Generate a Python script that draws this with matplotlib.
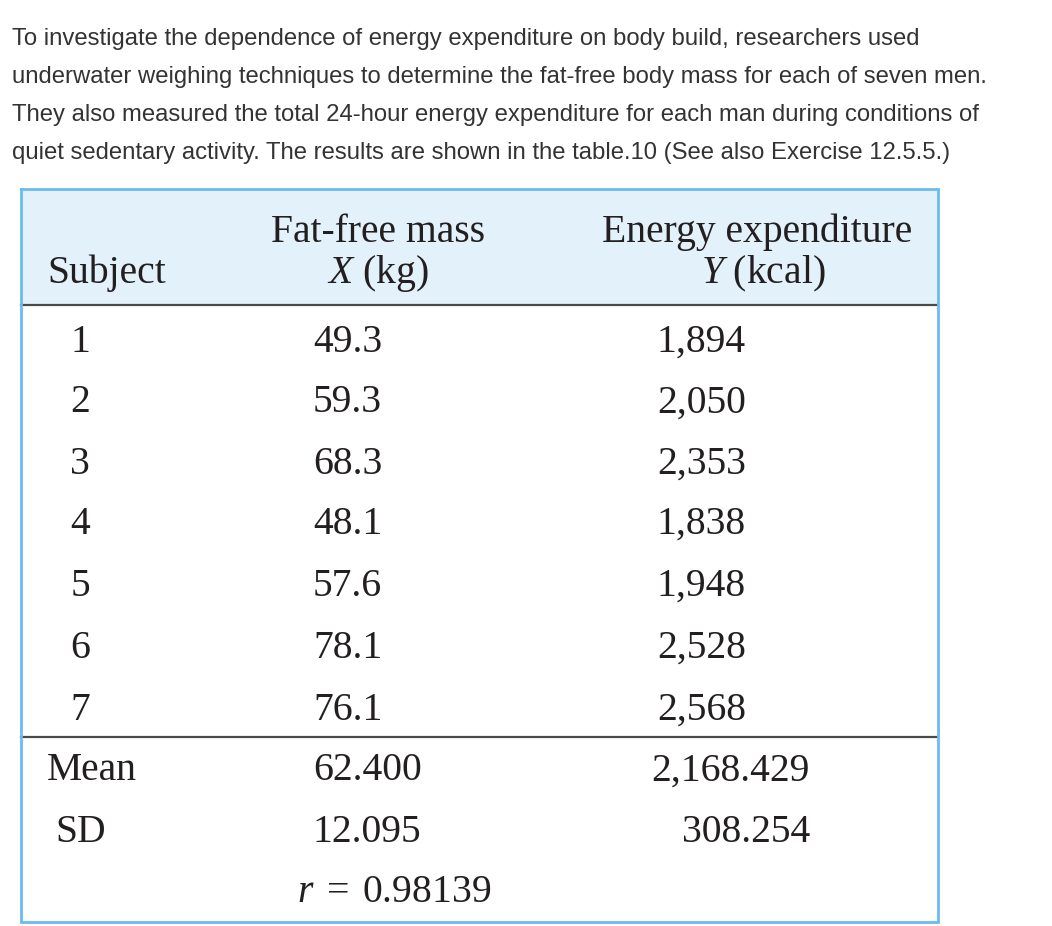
"""Table of fat-free mass vs energy expenditure, drawn as a figure."""

import matplotlib.pyplot as plt
from matplotlib.patches import Rectangle

intro_lines = [
    "To investigate the dependence of energy expenditure on body build, researchers used",
    "underwater weighing techniques to determine the fat-free body mass for each of seven men.",
    "They also measured the total 24-hour energy expenditure for each man during conditions of",
    "quiet sedentary activity. The results are shown in the table.10 (See also Exercise 12.5.5.)",
]
subjects = [1, 2, 3, 4, 5, 6, 7]
fat_free_mass = [49.3, 59.3, 68.3, 48.1, 57.6, 78.1, 76.1]
energy = [1894, 2050, 2353, 1838, 1948, 2528, 2568]
mean_x, mean_y = 62.400, 2168.429
sd_x, sd_y = 12.095, 308.254
r_value = 0.98139

plt.rcParams["mathtext.fontset"] = "custom"
plt.rcParams["mathtext.it"] = "Liberation Serif:italic"
plt.rcParams["mathtext.rm"] = "Liberation Serif"

W, H = 1052, 926
fig = plt.figure(figsize=(W / 100, H / 100), dpi=100)
ax = fig.add_axes([0, 0, 1, 1])
ax.set_xlim(0, W)
ax.set_ylim(H, 0)
ax.axis("off")

sans = "Liberation Sans"
serif = "Liberation Serif"
ink = "#231f20"
blue = "#6bbcee"

# intro paragraph
for i, line in enumerate(intro_lines):
    ax.text(12, 39 + 38 * i, line, family=sans, fontsize=17.2, color="#333333",
            va="center", ha="left")

# table frame
left, right, top, bottom = 21, 938, 189, 922
head_bot = 305
ax.add_patch(Rectangle((left, top), right - left, head_bot - top,
                       facecolor="#e3f1fb", edgecolor="none", zorder=0))
ax.plot([left, right], [head_bot, head_bot], color="#4a4a4a", lw=1.6, zorder=2)
ax.plot([left, right], [737, 737], color="#4a4a4a", lw=1.6, zorder=2)
ax.plot([left, right, right, left, left], [top, top, bottom, bottom, top],
        color=blue, lw=2, zorder=3, solid_joinstyle="miter")

fs = 28.5
kw = dict(family=serif, fontsize=fs, color=ink, va="center")
dy = 3

# header
ax.text(47, 270 + dy, "Subject", ha="left", **kw)
ax.text(378, 229 + dy, "Fat-free mass", ha="center", **kw)
ax.text(378, 271 + dy, r"$X$ (kg)", ha="center", **kw)
ax.text(757, 229 + dy, "Energy expenditure", ha="center", **kw)
ax.text(763, 271 + dy, r"$Y$ (kcal)", ha="center", **kw)

# body rows
row_y = [339, 400, 461, 521, 583, 645, 707]
for yy, s, xv, ev in zip(row_y, subjects, fat_free_mass, energy):
    ax.text(80, yy + dy, str(s), ha="center", **kw)
    ax.text(313, yy + dy, f"{xv:.1f}", ha="left", **kw)
    ax.text(746, yy + dy, f"{ev:,}", ha="right", **kw)

ax.text(47, 768 + dy, "Mean", ha="left", **kw)
ax.text(313, 768 + dy, f"{mean_x:.3f}", ha="left", **kw)
ax.text(810, 768 + dy, f"{mean_y:,.3f}", ha="right", **kw)
ax.text(55, 829 + dy, "SD", ha="left", **kw)
ax.text(313, 829 + dy, f"{sd_x:.3f}", ha="left", **kw)
ax.text(810, 829 + dy, f"{sd_y:,.3f}", ha="right", **kw)
ax.text(394, 890 + dy, rf"$r\;=\;${r_value:.5f}", ha="center", **kw)

fig.savefig("out.png", dpi=100)
